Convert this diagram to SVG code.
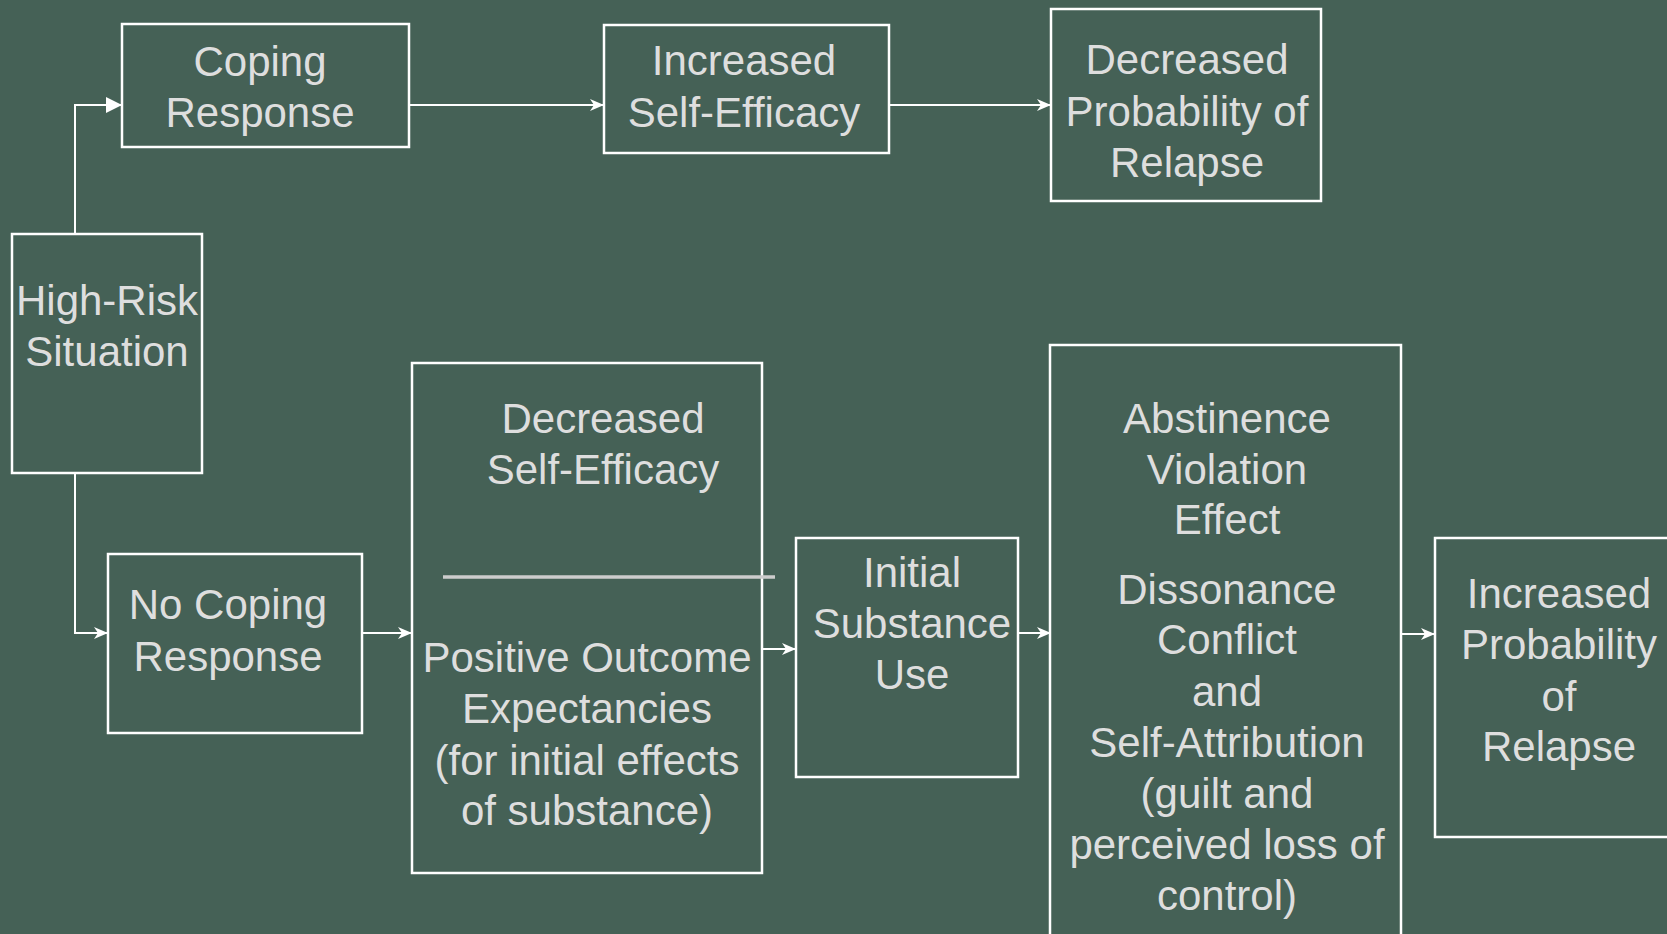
<svg xmlns="http://www.w3.org/2000/svg" width="1667" height="934" viewBox="0 0 1667 934">
<style>
.box{fill:#456156;stroke:#ffffff;stroke-width:2.5}
.t{font-family:"Liberation Sans",Arial,sans-serif;font-size:42px;fill:#dedede;text-anchor:middle}
.c{fill:none;stroke:#ffffff;stroke-width:2}
</style>
<defs>
<marker id="tri" viewBox="0 0 16 16" refX="15" refY="8" markerWidth="16" markerHeight="16" markerUnits="userSpaceOnUse" orient="auto">
<path d="M0,0 L16,8 L0,16 Z" fill="#ffffff"/>
</marker>
<marker id="open" viewBox="0 0 14 14" refX="13" refY="7" markerWidth="14" markerHeight="14" markerUnits="userSpaceOnUse" orient="auto">
<path d="M0,1 L14,7 L0,13 L4,7 Z" fill="#ffffff"/>
</marker>
</defs>
<rect width="1667" height="934" fill="#456156"/>
<g id="connectors">
<path class="c" d="M75,234 V105 H121" marker-end="url(#tri)"/>
<path class="c" d="M75,473 V633 H107" marker-end="url(#open)"/>
<path class="c" d="M409,105 H603" marker-end="url(#open)"/>
<path class="c" d="M889,105 H1050" marker-end="url(#open)"/>
<path class="c" d="M362,633 H411" marker-end="url(#open)"/>
<path class="c" d="M762,649 H795" marker-end="url(#open)"/>
<path class="c" d="M1018,633 H1050" marker-end="url(#open)"/>
<path class="c" d="M1401,634 H1434" marker-end="url(#open)"/>
</g>
<g id="high-risk">
<rect class="box" x="12" y="234" width="190" height="239"/>
<text class="t" x="107" y="315">High-Risk</text>
<text class="t" x="107" y="366">Situation</text>
</g>
<g id="coping">
<rect class="box" x="122" y="24" width="287" height="123"/>
<text class="t" x="260" y="76">Coping</text>
<text class="t" x="260" y="127">Response</text>
</g>
<g id="increased-se">
<rect class="box" x="604" y="25" width="285" height="128"/>
<text class="t" x="744" y="75">Increased</text>
<text class="t" x="744" y="127">Self-Efficacy</text>
</g>
<g id="decreased-prob">
<rect class="box" x="1051" y="9" width="270" height="192"/>
<text class="t" x="1187" y="74">Decreased</text>
<text class="t" x="1187" y="126">Probability of</text>
<text class="t" x="1187" y="177">Relapse</text>
</g>
<g id="no-coping">
<rect class="box" x="108" y="554" width="254" height="179"/>
<text class="t" x="228" y="619">No Coping</text>
<text class="t" x="228" y="671">Response</text>
</g>
<g id="decreased-se">
<rect class="box" x="412" y="363" width="350" height="510"/>
<text class="t" x="603" y="433">Decreased</text>
<text class="t" x="603" y="484">Self-Efficacy</text>
<line x1="443" y1="577" x2="775" y2="577" stroke="#cccccc" stroke-width="3.5"/>
<text class="t" x="587" y="672">Positive Outcome</text>
<text class="t" x="587" y="723">Expectancies</text>
<text class="t" x="587" y="775">(for initial effects</text>
<text class="t" x="587" y="825">of substance)</text>
</g>
<g id="initial-use">
<rect class="box" x="796" y="538" width="222" height="239"/>
<text class="t" x="912" y="587">Initial</text>
<text class="t" x="912" y="638">Substance</text>
<text class="t" x="912" y="689">Use</text>
</g>
<g id="ave">
<rect class="box" x="1050" y="345" width="351" height="620"/>
<text class="t" x="1227" y="433">Abstinence</text>
<text class="t" x="1227" y="484">Violation</text>
<text class="t" x="1227" y="534">Effect</text>
<text class="t" x="1227" y="604">Dissonance</text>
<text class="t" x="1227" y="654">Conflict</text>
<text class="t" x="1227" y="706">and</text>
<text class="t" x="1227" y="757">Self-Attribution</text>
<text class="t" x="1227" y="808">(guilt and</text>
<text class="t" x="1227" y="859">perceived loss of</text>
<text class="t" x="1227" y="910">control)</text>
</g>
<g id="increased-prob">
<rect class="box" x="1435" y="538" width="250" height="299"/>
<text class="t" x="1559" y="608">Increased</text>
<text class="t" x="1559" y="659">Probability</text>
<text class="t" x="1559" y="711">of</text>
<text class="t" x="1559" y="761">Relapse</text>
</g>
</svg>
